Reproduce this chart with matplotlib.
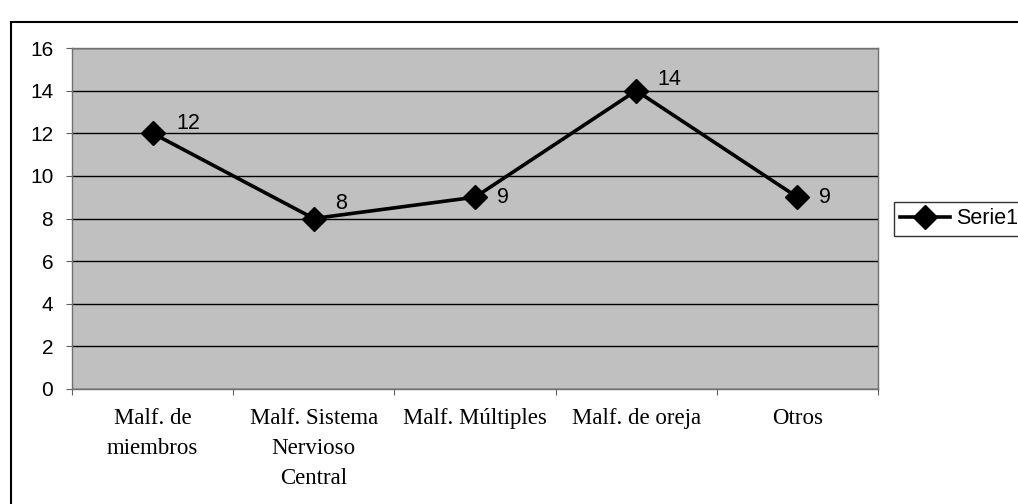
import matplotlib
matplotlib.use("Agg")
import matplotlib.pyplot as plt
from matplotlib.patches import Rectangle

categories = ["Malf. de\nmiembros", "Malf. Sistema\nNervioso\nCentral", "Malf. Múltiples",
              "Malf. de oreja", "Otros"]
values = [12, 8, 9, 14, 9]
y_ticks = [0, 2, 4, 6, 8, 10, 12, 14, 16]

# where Excel put each data label, relative to its point (pixels: right, up)
label_offsets = [(24, 10), (21, 15), (22, 0), (21, 11), (22, 0)]

W, H = 1018, 504
fig = plt.figure(figsize=(W / 100, H / 100), dpi=100)
fig.patch.set_facecolor("white")

# outer chart border (cut off on the right and bottom)
fig.patches.append(Rectangle((11 / W, -0.01), 1.0, (H - 22) / H + 0.01, transform=fig.transFigure,
                             fill=False, edgecolor="black", linewidth=1.5))

left, right, top, bottom = 72, 878, 48, 389
ax = fig.add_axes([left / W, 1 - bottom / H, (right - left) / W, (bottom - top) / H])
ax.set_facecolor("#c0c0c0")

x = list(range(len(values)))
ax.plot(x, values, color="black", linewidth=2.6, marker="D", markersize=12, label="Serie1", zorder=3)
for xi, v, (dx, dy) in zip(x, values, label_offsets):
    ax.annotate(str(v), (xi, v), xytext=(dx * 0.72, dy * 0.72), textcoords="offset points",
                fontsize=15.5, family="Liberation Sans", ha="left", va="center")

ax.set_xlim(-0.5, len(values) - 0.5)
ax.set_ylim(0, 16)
ax.set_yticks(y_ticks)
ax.set_yticklabels([str(t) for t in y_ticks], family="Liberation Sans", fontsize=15)
ax.yaxis.grid(True, color="black", linewidth=1)
ax.set_axisbelow(True)

ax.set_xticks([i + 0.5 for i in range(-1, len(values))])
ax.set_xticklabels([])
ax.set_xticks(x, minor=True)
ax.set_xticklabels(categories, minor=True, family="Liberation Serif", fontsize=16.5, linespacing=1.55)
ax.tick_params(axis="x", which="minor", length=0, pad=14)
ax.tick_params(axis="x", which="major", length=4.5, direction="out", color="#606060")
ax.tick_params(axis="y", length=4.5, direction="out", pad=9, color="#606060")

for s in ax.spines.values():
    s.set_color("#707070")
    s.set_linewidth(1)

leg = ax.legend(loc="center left", bbox_to_anchor=(894 / W, 1 - 219 / H), bbox_transform=fig.transFigure,
                prop={"family": "Liberation Sans", "size": 15.5}, frameon=True, fancybox=False,
                handlelength=2.3, borderpad=0.3, borderaxespad=0, handletextpad=0.3)
leg.get_frame().set_edgecolor("black")
leg.get_frame().set_linewidth(1)

fig.savefig("out.png", dpi=100)
